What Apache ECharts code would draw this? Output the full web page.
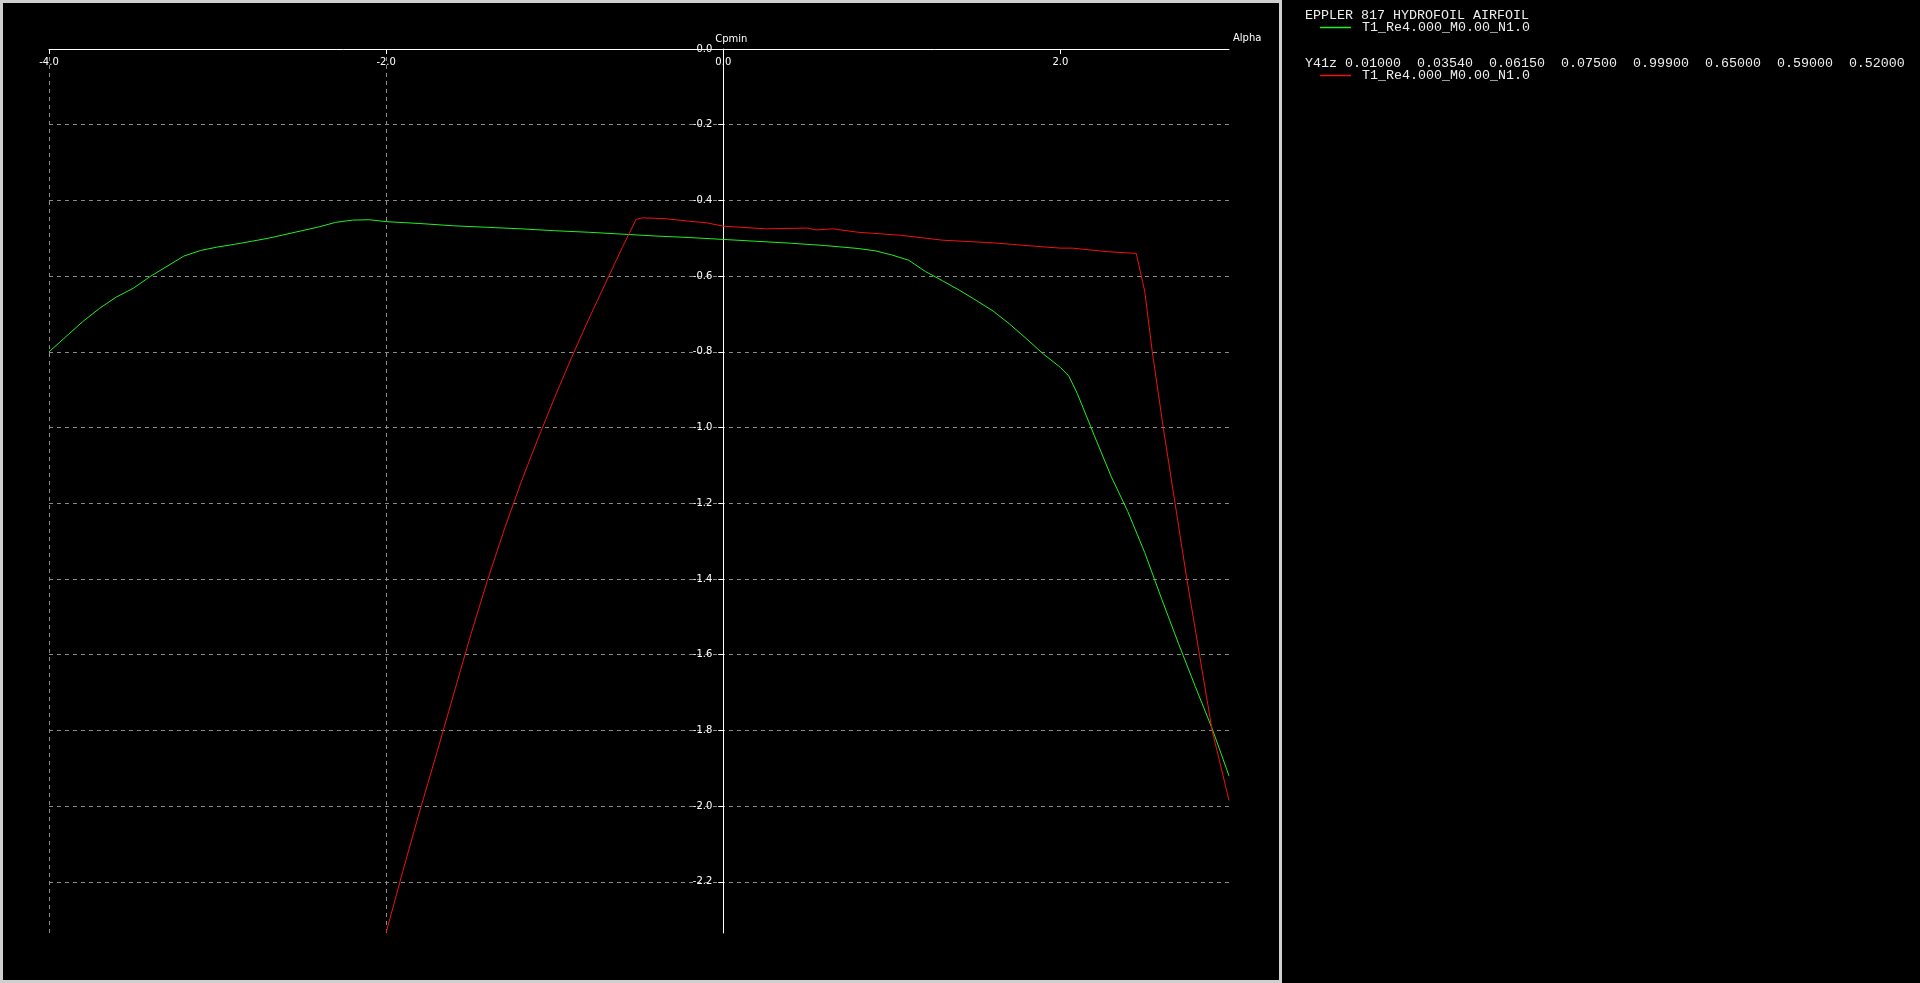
<!DOCTYPE html>
<html>
<head>
<meta charset="utf-8">
<script src="https://cdn.jsdelivr.net/npm/echarts@6/dist/echarts.min.js"></script>
<style>
  html, body { margin: 0; padding: 0; background: #000; }
  #chart { width: 1920px; height: 983px; }
</style>
</head>
<body>
<div id="chart"></div>
<script>
// ---- Data ----
const chartTitle = 'EPPLER 817 HYDROFOIL AIRFOIL';
const secondHeader = 'Y41z 0.01000  0.03540  0.06150  0.07500  0.99900  0.65000  0.59000  0.52000  0';
const seriesLabel = 'T1_Re4.000_M0.00_N1.0';
const xName = 'Alpha';
const yName = 'Cpmin';

// Series 1 (green)
const alphaGreen = [-4.0, -3.9, -3.8, -3.7, -3.6, -3.5, -3.4, -3.3, -3.2, -3.1, -3.0, -2.9, -2.8, -2.7, -2.6, -2.5, -2.4, -2.3, -2.2, -2.1, -2.0,
  -1.8, -1.6, -1.4, -1.2, -1.0, -0.8, -0.6, -0.4, -0.2, 0.0, 0.2, 0.4, 0.6, 0.8, 0.9, 1.0, 1.1, 1.2, 1.3, 1.4, 1.5, 1.6, 1.7, 1.8, 1.9, 2.0,
  2.05, 2.1, 2.2, 2.3, 2.4, 2.5, 2.6, 2.7, 2.8, 2.9, 3.0];
const cpminGreen = [-0.800, -0.760, -0.720, -0.685, -0.655, -0.632, -0.601, -0.574, -0.547, -0.532, -0.523, -0.516, -0.508, -0.500, -0.490, -0.480, -0.470, -0.458, -0.452, -0.451, -0.456,
  -0.461, -0.467, -0.471, -0.475, -0.480, -0.484, -0.489, -0.494, -0.498, -0.503, -0.508, -0.513, -0.519, -0.527, -0.533, -0.544, -0.558, -0.588, -0.612, -0.637, -0.664, -0.692, -0.727, -0.766, -0.806, -0.841,
  -0.864, -0.910, -1.020, -1.128, -1.222, -1.330, -1.452, -1.570, -1.684, -1.795, -1.920];

// Series 2 (red)
const alphaRed = [-2.0, -1.9, -1.8, -1.7, -1.6, -1.5, -1.4, -1.3, -1.2, -1.1, -1.0, -0.9, -0.8, -0.7, -0.6, -0.517, -0.48, -0.35, -0.2, -0.1, 0.0,
  0.25, 0.5, 0.55, 0.65, 0.8, 1.05, 1.3, 1.6, 1.85, 2.0, 2.07, 2.27, 2.45, 2.5, 2.545, 2.61, 2.68, 2.75, 2.825, 2.9, 3.0];
const cpminRed = [-2.334, -2.170, -2.012, -1.860, -1.705, -1.550, -1.405, -1.270, -1.145, -1.030, -0.920, -0.815, -0.715, -0.620, -0.525, -0.450, -0.446, -0.448, -0.455, -0.459, -0.468,
  -0.475, -0.473, -0.478, -0.475, -0.484, -0.492, -0.505, -0.512, -0.521, -0.526, -0.526, -0.535, -0.540, -0.640, -0.800, -1.000, -1.200, -1.400, -1.600, -1.800, -1.985];

// Axis ticks
const alphaTicks = [-4, -2, 0, 2];
const alphaTickLabels = ['-4.0', '-2.0', '0.0', '2.0'];
const cpTicks = [0, -0.2, -0.4, -0.6, -0.8, -1.0, -1.2, -1.4, -1.6, -1.8, -2.0, -2.2];
const cpTickLabels = ['-0.0', '-0.2', '-0.4', '-0.6', '-0.8', '-1.0', '-1.2', '-1.4', '-1.6', '-1.8', '-2.0', '-2.2'];

// ---- Build ----
const greenData = alphaGreen.map((a, i) => [a, cpminGreen[i]]);
const redData = alphaRed.map((a, i) => [a, cpminRed[i]]);

function labelFor(ticks, labels) {
  return function (v) {
    for (let i = 0; i < ticks.length; i++) {
      if (Math.abs(ticks[i] - v) < 1e-6) return labels[i];
    }
    return '';
  };
}

const axisFont = 'Tahoma, "DejaVu Sans", sans-serif';
const monoFont = '"Courier New", "Liberation Mono", monospace';
const GREEN = '#22ee22';
const RED = '#ee1111';
const GRID = '#8a8a8a';
const TEXT = '#ededed';

const chart = echarts.init(document.getElementById('chart'), null, { renderer: 'canvas' });
chart.setOption({
  backgroundColor: '#000000',
  animation: false,
  grid: { left: 49, top: 49, right: 691, bottom: 50, containLabel: false },
  xAxis: {
    type: 'value',
    position: 'top',
    min: -4, max: 3,
    interval: 2,
    name: xName,
    nameLocation: 'end',
    nameGap: 4,
    nameTextStyle: { color: '#ffffff', fontFamily: axisFont, fontSize: 10, verticalAlign: 'bottom', padding: [0, 0, 6, 0] },
    axisLine: { onZero: false, lineStyle: { color: '#ffffff', width: 1 } },
    axisTick: { show: true, inside: true, length: 5, customValues: alphaTicks, lineStyle: { color: '#ffffff' } },
    axisLabel: { inside: true, color: '#ffffff', fontFamily: axisFont, fontSize: 10, margin: 8, customValues: alphaTicks, formatter: labelFor(alphaTicks, alphaTickLabels) },
    splitLine: { show: true, showMaxLine: false, lineStyle: { color: GRID, type: [4, 4], width: 1 } }
  },
  yAxis: {
    type: 'value',
    position: 'left',
    offset: 0,
    min: -2.335, max: 0,
    minInterval: 0.2, maxInterval: 0.2, splitNumber: 12,
    name: yName,
    nameLocation: 'end',
    nameGap: 3,
    nameTextStyle: { color: '#ffffff', fontFamily: axisFont, fontSize: 10, align: 'center', verticalAlign: 'bottom', padding: [0, 0, 0, 16] },
    axisLine: { onZero: false, lineStyle: { color: '#ffffff', width: 1 } },
    axisTick: { show: true, length: 5, customValues: cpTicks, lineStyle: { color: '#ffffff' } },
    axisLabel: { color: '#ffffff', fontFamily: axisFont, fontSize: 10, margin: 11, customValues: cpTicks, formatter: labelFor(cpTicks, cpTickLabels) },
    splitLine: { show: true, showMinLine: false, lineStyle: { color: GRID, type: [4, 4], width: 1 } }
  },
  legend: [
    {
      left: 1320, top: 21, padding: 0, itemWidth: 31, itemHeight: 1.5, icon: 'rect',
      data: ['s1'], formatter: () => seriesLabel,
      textStyle: { color: TEXT, fontFamily: monoFont, fontSize: 13.33, padding: [0, 0, 0, 6] },
      selectedMode: false
    },
    {
      left: 1320, top: 69, padding: 0, itemWidth: 31, itemHeight: 1.5, icon: 'rect',
      data: ['s2'], formatter: () => seriesLabel,
      textStyle: { color: TEXT, fontFamily: monoFont, fontSize: 13.33, padding: [0, 0, 0, 6] },
      selectedMode: false
    }
  ],
  graphic: [
    { type: 'rect', silent: true, z: 100, shape: { x: 1.5, y: 1.5, width: 1279, height: 980 }, style: { fill: null, stroke: '#cfcfcf', lineWidth: 3 } },
    { type: 'text', silent: true, left: 1305, top: 9, style: { text: chartTitle, fill: TEXT, font: '13.33px ' + monoFont } },
    { type: 'text', silent: true, left: 1305, top: 57, style: { text: secondHeader, fill: TEXT, font: '13.33px ' + monoFont } }
  ],
  series: [
    { name: 's1', type: 'line', data: greenData, showSymbol: false, symbol: 'none', color: GREEN, lineStyle: { color: GREEN, width: 1 }, clip: true },
    { name: 's2', type: 'line', data: redData, showSymbol: false, symbol: 'none', color: RED, lineStyle: { color: RED, width: 1 }, clip: true }
  ]
});

// Place the Cpmin axis where Alpha = 0, using the x scale itself.
const xZero = chart.convertToPixel({ xAxisIndex: 0 }, 0);
const xLeft = chart.convertToPixel({ xAxisIndex: 0 }, -4);
chart.setOption({ yAxis: { offset: -(xZero - xLeft) } });
</script>
</body>
</html>
